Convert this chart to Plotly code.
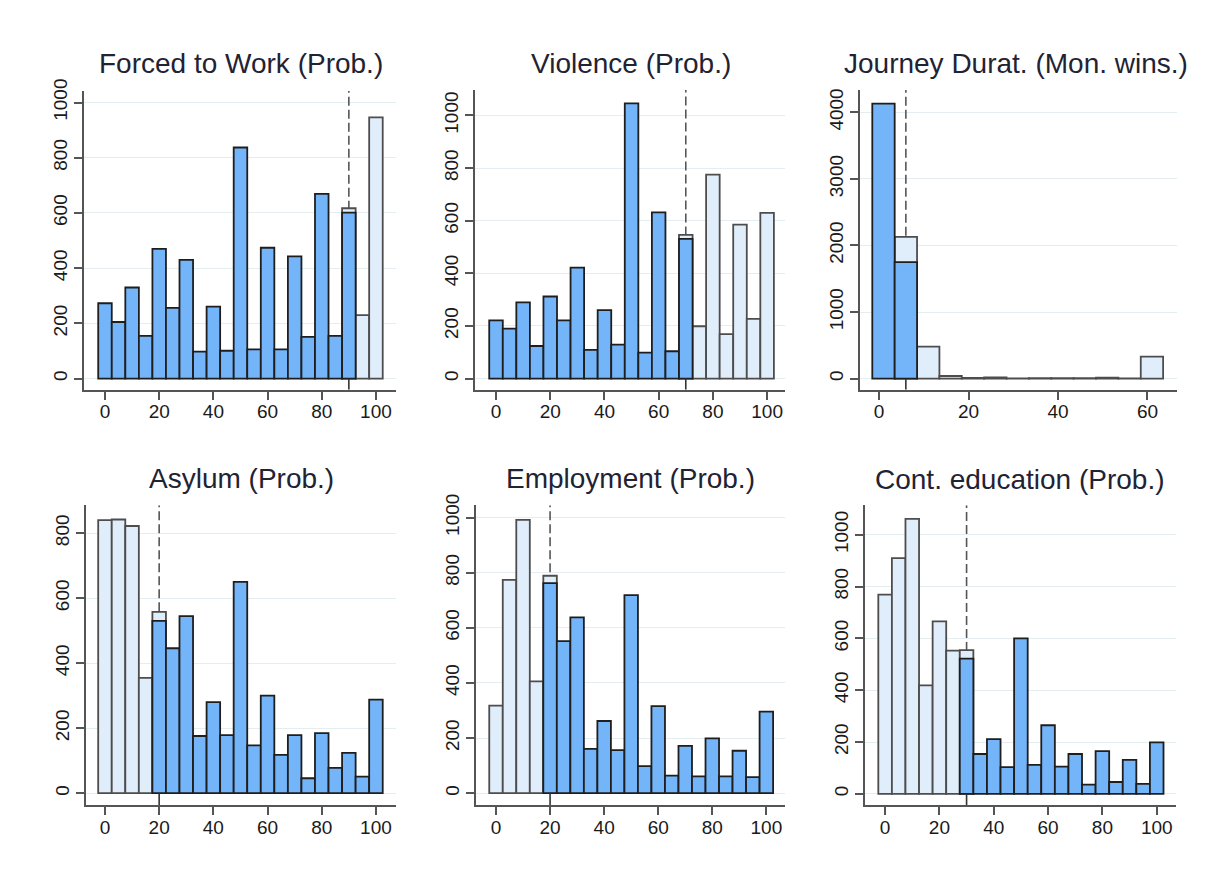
import plotly.graph_objects as go

# ---------------- data ----------------
TITLES = ["Forced to Work (Prob.)", "Violence (Prob.)", "Journey Durat. (Mon. wins.)",
          "Asylum (Prob.)", "Employment (Prob.)", "Cont. education (Prob.)"]
THRESHOLDS = [90, 70, 6, 20, 20, 30]

PROB_BINS = [0, 5, 10, 15, 20, 25, 30, 35, 40, 45, 50, 55, 60, 65, 70, 75, 80, 85, 90, 95, 100]
JOURNEY_BINS = [1, 6, 11, 16, 21, 26, 31, 36, 41, 46, 51, 56, 61]

FORCED_BLUE = [273, 205, 330, 155, 470, 256, 430, 98, 261, 101, 837, 106, 474, 106, 443, 151, 669, 155, 601, None, None]
FORCED_LIGHT = [None, None, None, None, None, None, None, None, None, None, None, None, None, None, None, None, None, None, 617, 230, 946]

VIOL_BLUE = [221, 190, 290, 124, 312, 221, 422, 109, 260, 129, 1046, 99, 632, 104, 531, None, None, None, None, None, None]
VIOL_LIGHT = [None, None, None, None, None, None, None, None, None, None, None, None, None, None, 546, 199, 775, 169, 585, 227, 630]

JOUR_BLUE = [4130, 1750, None, None, None, None, None, None, None, None, None, None, None]
JOUR_LIGHT = [None, 2130, 480, 40, 10, 20, 5, 6, 6, 6, 15, 3, 330]

ASYL_LIGHT = [840, 842, 822, 355, 558, None, None, None, None, None, None, None, None, None, None, None, None, None, None, None, None]
ASYL_BLUE = [None, None, None, None, 530, 446, 545, 176, 280, 179, 650, 147, 300, 118, 179, 46, 185, 78, 124, 51, 288]

EMPL_LIGHT = [318, 774, 992, 406, 789, None, None, None, None, None, None, None, None, None, None, None, None, None, None, None, None]
EMPL_BLUE = [None, None, None, None, 762, 552, 638, 161, 262, 156, 719, 98, 316, 64, 172, 61, 199, 61, 154, 58, 296]

EDU_LIGHT = [769, 910, 1061, 419, 666, 553, 555, None, None, None, None, None, None, None, None, None, None, None, None, None, None]
EDU_BLUE = [None, None, None, None, None, None, 522, 154, 211, 103, 600, 112, 265, 105, 154, 36, 165, 46, 131, 39, 199]

X_TICKS_PROB = [0, 20, 40, 60, 80, 100]
X_TICKS_JOUR = [0, 20, 40, 60]
Y_TICKS = [[0, 200, 400, 600, 800, 1000], [0, 200, 400, 600, 800, 1000], [0, 1000, 2000, 3000, 4000],
           [0, 200, 400, 600, 800], [0, 200, 400, 600, 800, 1000], [0, 200, 400, 600, 800, 1000]]

PANELS = [
    (PROB_BINS, FORCED_LIGHT, FORCED_BLUE, X_TICKS_PROB),
    (PROB_BINS, VIOL_LIGHT, VIOL_BLUE, X_TICKS_PROB),
    (JOURNEY_BINS, JOUR_LIGHT, JOUR_BLUE, X_TICKS_JOUR),
    (PROB_BINS, ASYL_LIGHT, ASYL_BLUE, X_TICKS_PROB),
    (PROB_BINS, EMPL_LIGHT, EMPL_BLUE, X_TICKS_PROB),
    (PROB_BINS, EDU_LIGHT, EDU_BLUE, X_TICKS_PROB),
]

# ---------------- layout (pixel geometry) ----------------
W, H = 1214, 881
# plot box in pixels: left, right, top, bottom ; axis ranges
BOXES = [(84, 396, 80, 383), (475, 785, 79, 383), (860, 1177, 79, 383),
         (86, 396, 500, 804), (476, 785, 500, 804), (865, 1176, 500, 804)]
XRANGES = [(-7.75, 107.4), (-7.75, 106.6), (-4.25, 66.6),
           (-7.0, 107.4), (-7.4, 106.9), (-7.4, 107.1)]
YRANGES = [(-40.4, 1042), (-42.4, 1097), (-167, 4336),
           (-36.4, 886), (-43, 1045), (-43, 1114)]
TITLE_POS = [(241, 52), (631, 52), (1016, 52), (241, 473), (630, 473), (1020, 474)]

BLUE = "#74b5f9"
LIGHT = "#e0edfb"
FONT = "Liberation Sans, Arial, Helvetica, sans-serif"

fig = go.Figure()
shapes = []
annotations = []
layout_axes = {}

for i, (bins, light, blue, xt) in enumerate(PANELS):
    n = "" if i == 0 else str(i + 1)
    xa, ya = "x" + n, "y" + n
    fig.add_trace(go.Bar(x=bins, y=light, width=5, xaxis=xa, yaxis=ya,
                         marker=dict(color=LIGHT, line=dict(color="#4d4d4d", width=1.8)),
                         showlegend=False, hoverinfo="x+y"))
    fig.add_trace(go.Bar(x=bins, y=blue, width=5, xaxis=xa, yaxis=ya,
                         marker=dict(color=BLUE, line=dict(color="#1e1e1e", width=1.8)),
                         showlegend=False, hoverinfo="x+y"))
    l, r, t, b = BOXES[i]
    layout_axes["xaxis" + n] = dict(
        domain=[l / W, r / W], range=list(XRANGES[i]), anchor=ya,
        tickvals=xt, ticks="outside", ticklen=8, tickwidth=1.5, tickcolor="#555",
        ticklabelstandoff=-4,
        showline=True, linecolor="#555", linewidth=1.5, showgrid=False, zeroline=False,
        tickfont=dict(family=FONT, size=19, color="#1a1a1a"), fixedrange=True)
    layout_axes["yaxis" + n] = dict(
        domain=[1 - b / H, 1 - t / H], range=list(YRANGES[i]), anchor=xa,
        tickvals=Y_TICKS[i], ticks="outside", ticklen=8, tickwidth=1.5, tickcolor="#555",
        tickangle=-90, showline=True, linecolor="#555", linewidth=1.5,
        showgrid=True, gridcolor="#e4eef0", gridwidth=1, zeroline=False,
        tickfont=dict(family=FONT, size=19, color="#1a1a1a"), fixedrange=True)
    thr = THRESHOLDS[i]
    shapes.append(dict(type="line", xref=xa, yref=ya, x0=thr, x1=thr, y0=0, y1=YRANGES[i][1],
                       line=dict(color="#555", width=1.6, dash="9px,4px"), layer="between"))
    shapes.append(dict(type="line", xref=xa, yref=ya, x0=thr, x1=thr, y0=YRANGES[i][0], y1=0,
                       line=dict(color="#333", width=1.6), layer="above"))
    cx, cy = TITLE_POS[i]
    annotations.append(dict(text=TITLES[i], xref="paper", yref="paper", x=cx / W, y=1 - cy / H,
                            xanchor="center", yanchor="middle", showarrow=False,
                            font=dict(family=FONT, size=28, color="#1f2333")))

fig.update_layout(
    width=W, height=H, margin=dict(l=0, r=0, t=0, b=0),
    paper_bgcolor="white", plot_bgcolor="white", barmode="overlay",
    shapes=shapes, annotations=annotations, **layout_axes)

fig.write_html("out.html", config={"displayModeBar": False},
               post_script="document.body.style.margin='0';document.body.style.overflow='hidden';")
